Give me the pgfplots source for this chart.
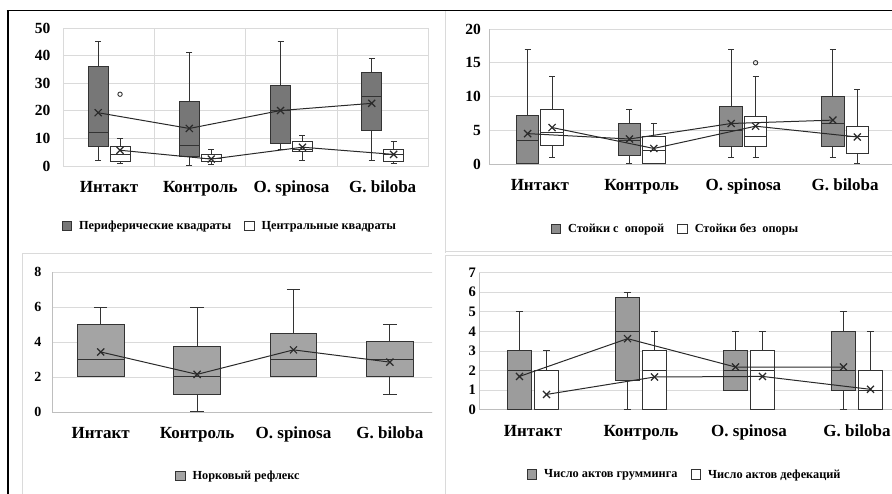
\documentclass[border=0pt]{standalone}
\usepackage{pgfplots}
\pgfplotsset{compat=1.18}
\usepgfplotslibrary{statistics}
\usepackage{fontspec}
\setmainfont{Liberation Serif}

\definecolor{boxline}{HTML}{333333}
\definecolor{gridc}{HTML}{DADADA}
\definecolor{axisc}{HTML}{BEBEBE}
\definecolor{greyA}{HTML}{777777}
\definecolor{greyB}{HTML}{8C8C8C}
\definecolor{greyC}{HTML}{A4A4A4}
\definecolor{greyD}{HTML}{9C9C9C}
\definecolor{meanc}{HTML}{2A2A2A}

\pgfplotsset{
  panel/.style={
    scale only axis, anchor=south west,
    xmin=-0.5, xmax=3.5, ymin=0,
    xtick={0,1,2,3},
    xticklabels={Интакт, Контроль, O. spinosa, G. biloba},
    major tick length=0pt,
    ymajorgrids, grid style={gridc, line width=0.8pt},
    /pgf/number format/assume math mode=true,
    xticklabel style={font=\bfseries\fontsize{17}{17}\selectfont, anchor=base, yshift=-27pt},
    legend style={draw=none, fill=none, anchor=center, legend columns=-1, inner sep=0pt,
      font=\bfseries\fontsize{12.3}{12.3}\selectfont,
      /tikz/every odd column/.append style={column sep=5pt},
      /tikz/every even column/.append style={column sep=11pt}},
  },
  open/.style={axis x line*=bottom, axis y line*=left, axis line style={axisc, line width=0.8pt}},
  sq/.style={legend image code/.code={\draw[##1, line width=0.9pt] (0pt,-4.8pt) rectangle (9.6pt,4.8pt);}},
  bx/.style={draw=boxline, line width=1pt, solid, forget plot},
  meanline/.style={meanc, line width=1pt, mark=x, mark size=5pt, mark options={solid, line width=1.2pt}, forget plot},
  outl/.style={mark=o, mark size=2.2pt, mark options={draw=boxline, line width=0.9pt, fill=white}},
}

% one prepared box: options, position, lower whisker, Q1, median, Q3, upper whisker, outliers
\newcommand\bp[8]{\addplot[bx, #1, boxplot prepared={draw direction=y, draw position=#2, lower whisker=#3, lower quartile=#4, median=#5, upper quartile=#6, upper whisker=#7}] coordinates {#8};}

\begin{document}
\begin{tikzpicture}
\begin{scope}
\clip (0pt,0pt) rectangle (892pt,494pt);

% ---------- Периферические / центральные квадраты ----------
\begin{axis}[panel, at={(63.5pt,328pt)}, width=364.8pt, height=138pt,
  ymax=50, ytick={0,10,...,50},
  axis line style={gridc, line width=0.8pt},
  extra x ticks={0.5,1.5,2.5}, extra x tick labels={},
  extra x tick style={xmajorgrids=true},
  yticklabel style={font=\bfseries\fontsize{15.5}{15.5}\selectfont, inner sep=0pt, xshift=-13pt},
  legend style={at={(rel axis cs:0.456,-0.435)}},
]
\addlegendimage{sq, draw=boxline, fill=greyA}
\addlegendentry{Периферические квадраты}
\addlegendimage{sq, draw=boxline, fill=white}
\addlegendentry{Центральные квадраты}
\pgfplotsset{boxplot/box extend=0.22, boxplot/whisker extend=0.065}
\bp{fill=greyA}{-0.12}{2}{7.2}{12}{36}{45}{}
\bp{fill=greyA}{0.88}{0}{3.3}{7.6}{23.3}{41}{}
\bp{fill=greyA}{1.88}{6}{8}{20}{29}{45}{}
\bp{fill=greyA}{2.88}{2}{13}{25}{34}{39}{}
\bp{fill=white, outl}{0.12}{1}{1.7}{4}{7.2}{10}{(0,26)}
\bp{fill=white}{1.12}{0.5}{1.6}{2.7}{4}{6}{}
\bp{fill=white}{2.12}{2}{5.3}{6}{8.9}{11}{}
\bp{fill=white}{3.12}{1}{1.6}{4}{6}{9}{}
\addplot[meanline] coordinates {(-0.12,19.3) (0.88,13.6) (1.88,20.1) (2.88,22.7)};
\addplot[meanline] coordinates {(0.12,5.7) (1.12,2.5) (2.12,6.8) (3.12,4.2)};
\end{axis}

% ---------- Стойки ----------
\begin{axis}[panel, open, at={(489pt,330pt)}, width=407pt, height=135pt,
  ymax=20, ytick={0,5,...,20},
  yticklabel style={font=\bfseries\fontsize{15.5}{15.5}\selectfont, inner sep=0pt, xshift=-8pt},
  legend style={at={(rel axis cs:0.458,-0.481)}},
]
\addlegendimage{sq, draw=boxline, fill=greyB}
\addlegendentry{Стойки с\ \ опорой}
\addlegendimage{sq, draw=boxline, fill=white}
\addlegendentry{Стойки без\ \ опоры}
\pgfplotsset{boxplot/box extend=0.22, boxplot/whisker extend=0.06}
\bp{fill=greyB}{-0.12}{0}{0}{3.5}{7.2}{17}{}
\bp{fill=greyB}{0.88}{0}{1.2}{3.5}{6}{8}{}
\bp{fill=greyB}{1.88}{1}{2.6}{5}{8.5}{17}{}
\bp{fill=greyB}{2.88}{1}{2.6}{6}{10}{17}{}
\bp{fill=white}{0.12}{1}{2.8}{4.6}{8}{13}{}
\bp{fill=white}{1.12}{0}{0}{2}{4}{6}{}
\bp{fill=white, outl}{2.12}{1}{2.6}{4}{7}{13}{(0,15)}
\bp{fill=white}{3.12}{0}{1.5}{4}{5.5}{11}{}
\addplot[meanline] coordinates {(-0.12,4.5) (0.88,3.7) (1.88,6.0) (2.88,6.5)};
\addplot[meanline] coordinates {(0.12,5.4) (1.12,2.3) (2.12,5.6) (3.12,4.0)};
\end{axis}

% ---------- Груминг / дефекация ----------
\begin{axis}[panel, open, at={(479pt,84.3pt)}, width=432pt, height=137pt,
  ymax=7, ytick={0,1,...,7},
  yticklabel style={font=\bfseries\fontsize{14.5}{14.5}\selectfont, inner sep=0pt, xshift=-3pt},
  legend style={at={(rel axis cs:0.476,-0.473)}},
]
\addlegendimage{sq, draw=boxline, fill=greyD}
\addlegendentry{Число актов грумминга}
\addlegendimage{sq, draw=boxline, fill=white}
\addlegendentry{Число актов дефекаций}
\pgfplotsset{boxplot/box extend=0.22, boxplot/whisker extend=0.065}
\bp{fill=greyD}{-0.125}{0}{0}{2}{3}{5}{}
\bp{fill=greyD}{0.875}{0}{1.5}{4}{5.75}{6}{}
\bp{fill=greyD}{1.875}{1}{1}{2}{3}{4}{}
\bp{fill=greyD}{2.875}{0}{1}{2}{4}{5}{}
\bp{fill=white}{0.125}{0}{0}{0}{2}{3}{}
\bp{fill=white}{1.125}{0}{0}{2}{3}{4}{}
\bp{fill=white}{2.125}{0}{0}{2}{3}{4}{}
\bp{fill=white}{3.125}{0}{0}{1}{2}{4}{}
\addplot[meanline] coordinates {(-0.125,1.7) (0.875,3.63) (1.875,2.18) (2.875,2.18)};
\addplot[meanline] coordinates {(0.125,0.78) (1.125,1.67) (2.125,1.7) (3.125,1.04)};
\end{axis}

% ---------- Норковый рефлекс ----------
\begin{scope}
\clip (0pt,0pt) rectangle (432pt,252pt);
\begin{axis}[panel, open, at={(52.5pt,82pt)}, width=385.6pt, height=140pt,
  ymax=8, ytick={0,2,...,8},
  yticklabel style={font=\bfseries\fontsize{14}{14}\selectfont, inner sep=0pt, xshift=-11pt},
  legend style={at={(rel axis cs:0.482,-0.457)}},
]
\addlegendimage{sq, draw=boxline, fill=greyC}
\addlegendentry{Норковый рефлекс}
\pgfplotsset{boxplot/box extend=0.485, boxplot/whisker extend=0.14}
\bp{fill=greyC}{0}{2}{2}{3}{5}{6}{}
\bp{fill=greyC}{1}{0}{1}{2}{3.75}{6}{}
\bp{fill=greyC}{2}{2}{2}{3}{4.5}{7}{}
\bp{fill=greyC}{3}{1}{2}{3}{4}{5}{}
\addplot[meanline] coordinates {(0,3.43) (1,2.15) (2,3.55) (3,2.85)};
\end{axis}
\end{scope}

% panel frames
\draw[gridc, line width=0.8pt] (445pt,241pt) -- (445pt,483pt);
\draw[gridc, line width=0.8pt] (22pt,0pt) -- (22pt,241pt) -- (432pt,241pt);
\draw[gridc, line width=0.8pt] (445pt,0pt) -- (445pt,239pt) -- (892pt,239pt);
\draw[gridc, line width=0.6pt] (445pt,243pt) -- (892pt,243pt);
\draw[black, line width=1.5pt] (6.5pt,483.5pt) -- (892pt,483.5pt);
\draw[black, line width=2pt] (7.5pt,0pt) -- (7.5pt,484.2pt);
\end{scope}
\pgfresetboundingbox
\useasboundingbox (0pt,0pt) rectangle (892pt,494pt);
\end{tikzpicture}
\end{document}
